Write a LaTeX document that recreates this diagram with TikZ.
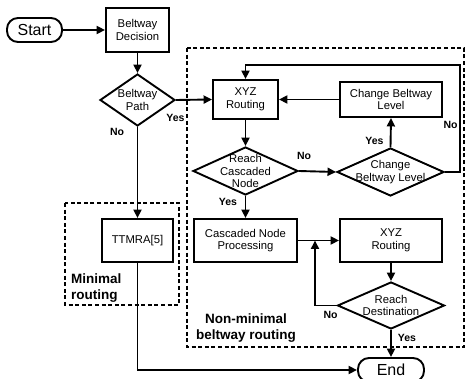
\documentclass[tikz,border=0pt]{standalone}
\usepackage{fontspec}
\setmainfont{Liberation Sans}
\usetikzlibrary{shapes.geometric,arrows.meta}
\begin{document}
\begin{tikzpicture}[x=1pt,y=-1pt,
  every node/.style={font=\fontsize{11.3}{12.7}\selectfont},
  box/.style={draw,line width=1.9pt,rectangle,align=center,inner sep=1pt},
  dia/.style={draw,line width=1.9pt,diamond,align=center,inner sep=-12pt},
  term/.style={draw,line width=1.9pt,rectangle,rounded corners=11pt,font=\fontsize{16}{18}\selectfont,inner sep=0pt},
  arr/.style={line width=1.9pt,-{Triangle[length=8.5pt,width=8pt]}},
  lbl/.style={font=\fontsize{10.5}{12}\selectfont\bfseries,inner sep=0pt},
  grp/.style={font=\fontsize{13.5}{15.5}\selectfont\bfseries,inner sep=0pt},
  dbox/.style={draw,line width=1.9pt,dash pattern=on 4pt off 2.6pt}]
\useasboundingbox (0,0) rectangle (466,379);
% group boxes
\draw[dbox] (65,203) rectangle (179,305);
\draw[dbox] (187,48) rectangle (464,347);
% nodes
\node[term,minimum width=55,minimum height=24] (start) at (34.5,30) {Start};
\node[box,minimum width=63,minimum height=44] (bd) at (137.5,30) {Beltway\\Decision};
\node[dia,minimum width=75,minimum height=52] (bp) at (137.5,100) {Beltway\\Path};
\node[box,minimum width=65,minimum height=39] (xyz1) at (245.5,99.5) {XYZ\\Routing};
\node[box,minimum width=102,minimum height=35] (cblbox) at (391,99.5) {Change Beltway\\Level};
\node[dia,minimum width=105,minimum height=48] (rcn) at (245.5,171) {Reach\\Cascaded\\Node};
\node[dia,minimum width=107,minimum height=48] (cbld) at (390.5,172) {Change\\Beltway Level};
\node[box,minimum width=103,minimum height=43] (cnp) at (245.5,240.5) {Cascaded Node\\Processing};
\node[box,minimum width=102,minimum height=43] (xyz2) at (391,240.5) {XYZ\\Routing};
\node[dia,minimum width=107,minimum height=47] (rd) at (391,305.5) {Reach\\Destination};
\node[box,minimum width=71,minimum height=43] (ttmra) at (137.5,240.5) {TTMRA[5]};
\node[term,minimum width=66,minimum height=24] (end) at (391,370) {End};
% coordinates
\coordinate (loopc) at (460,65);
\coordinate (joinp) at (315,240.5);
% connectors
\draw[arr] (start) -- (bd);
\draw[arr] (bd) -- (bp);
\draw[arr] (bp.east) -- (xyz1.west);
\draw[arr] (bp.south) -- (ttmra.north);
\draw[arr] (xyz1) -- (rcn);
\draw[arr] (cblbox.west) -- (xyz1.east);
\draw[arr] (rcn.east) -- (cbld.west);
\draw[arr] (cbld.north) -- (cblbox.south);
\draw[arr] (cbld.east) -| (loopc) -| (xyz1.north);
\draw[arr] (rcn.south) -- (cnp.north);
\draw[arr] (cnp.east) -- (xyz2.west);
\draw[arr] (xyz2.south) -- (rd.north);
\draw[arr] (rd.west) -| (joinp);
\draw[arr] (rd.south) -- (end.north);
\draw[arr] (ttmra.south) |- (end.west);
% labels
\node[lbl] (l1) at (175.5,118) {Yes};
\node[lbl] (l2) at (117,132) {No};
\node[lbl] (l3) at (304,156) {No};
\node[lbl] (l4) at (374.5,141) {Yes};
\node[lbl] (l5) at (450.5,124.5) {No};
\node[lbl] (l6) at (228,201.5) {Yes};
\node[lbl] (l7) at (330.5,314.5) {No};
\node[lbl] (l8) at (407,338) {Yes};
\node[grp,align=left,anchor=west] (g1) at (71,288) {Minimal\\routing};
\node[grp,align=center] (g2) at (246,328) {Non-minimal\\beltway routing};
\end{tikzpicture}
\end{document}
